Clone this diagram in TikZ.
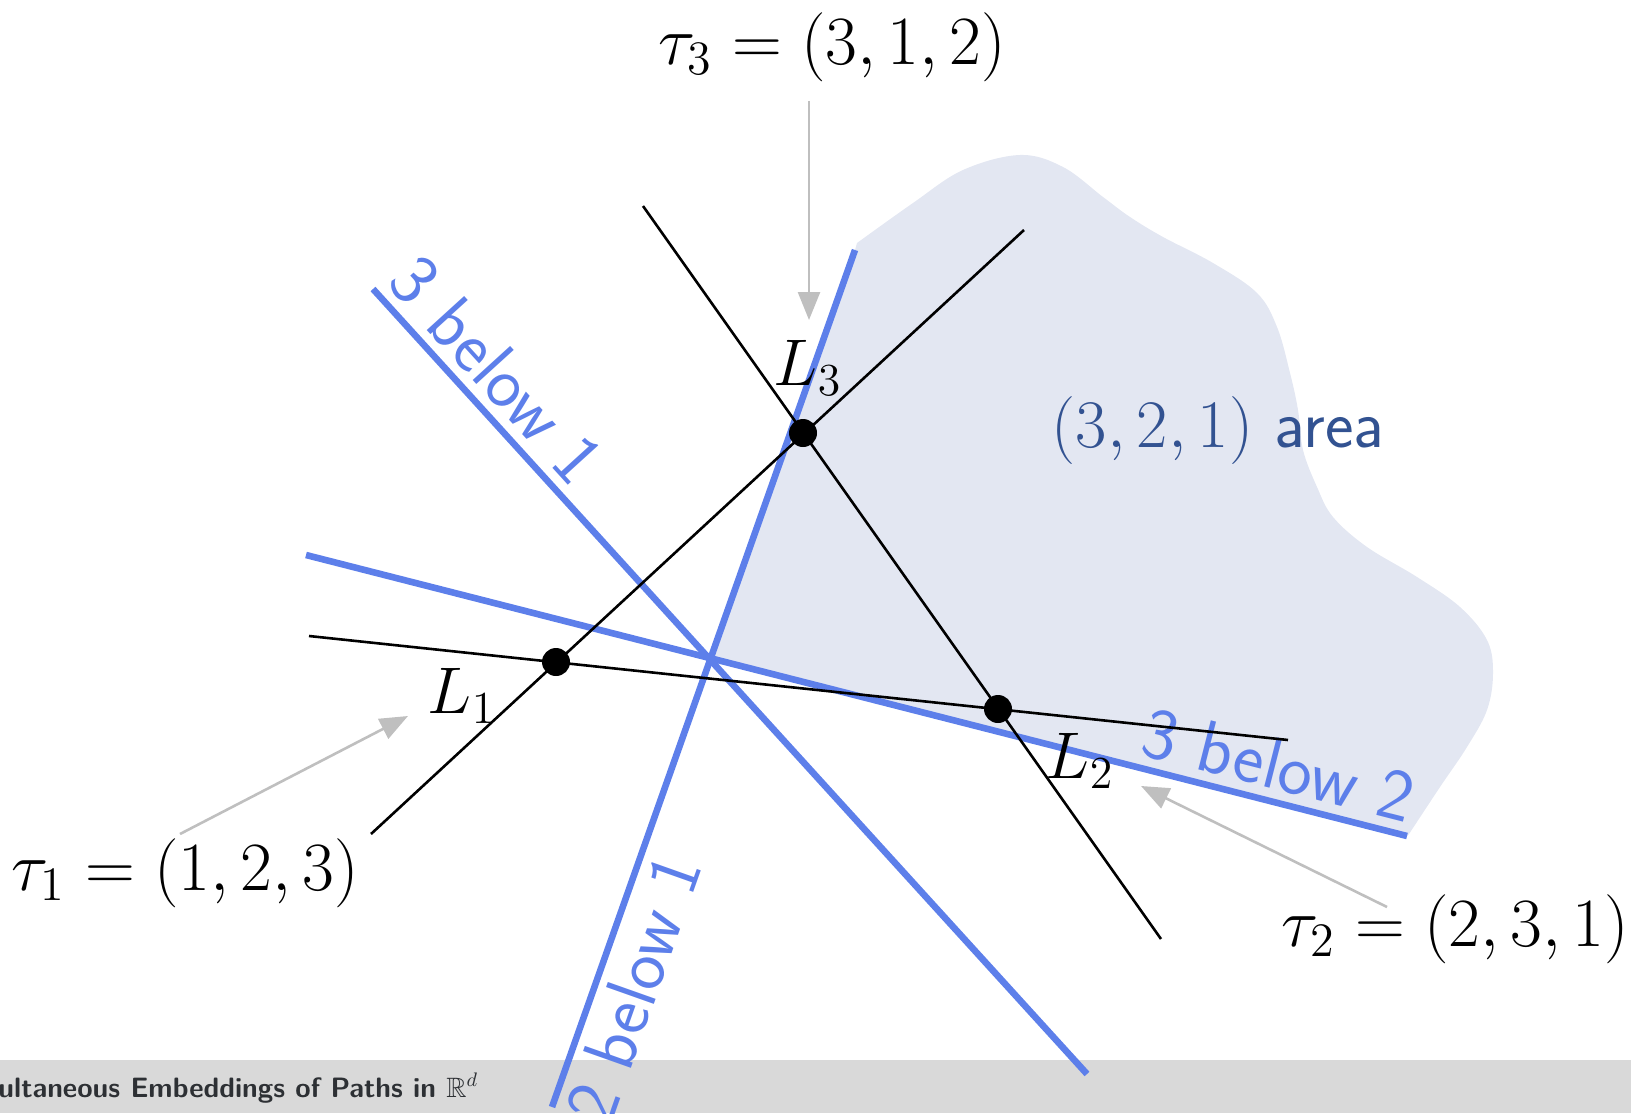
\RequirePackage{fix-cm}
\documentclass[tikz,border=0pt]{standalone}
\usepackage{amssymb}
\usepackage{graphicx}
\usetikzlibrary{arrows.meta,calc}
\definecolor{lineblue}{RGB}{93,127,234}
\definecolor{blobfill}{RGB}{227,231,242}
\definecolor{areablue}{RGB}{50,82,145}
\definecolor{arrowgray}{RGB}{191,191,191}
\definecolor{footgray}{RGB}{217,217,217}
\definecolor{foottext}{RGB}{45,48,52}
\newcommand{\bigmath}[2]{\scalebox{#1}{$#2$}}
\begin{document}
\begin{tikzpicture}[x=0.5pt,y=-0.5pt,
  blueline/.style={line width=3.3pt, draw=lineblue},
  blackline/.style={line width=1.3pt, draw=black},
  dotnode/.style={circle, fill=black, inner sep=0pt, minimum size=14pt},
  grayarrow/.style={draw=arrowgray, line width=1.3pt, -{Triangle[length=14pt,width=11pt,fill=arrowgray]}},
  taulabel/.style={font=\fontsize{17.28}{22}\selectfont, inner sep=0pt},
  Llabel/.style={font=\fontsize{17.28}{22}\selectfont, inner sep=0pt},
  bluelabel/.style={text=lineblue, font=\sffamily\fontsize{36.5}{42}\selectfont, inner sep=4pt},
  arealabel/.style={text=areablue, font=\sffamily\fontsize{34}{40}\selectfont, inner sep=0pt},
  footlabel/.style={text=foottext, font=\sffamily\bfseries\fontsize{14}{17}\selectfont, inner sep=0pt}]
\useasboundingbox (0,0) rectangle (1631,1113);
% footline
\fill[footgray] (0,1060) rectangle (1631,1113);
\node[footlabel, anchor=base west] (foot) at (-2,1097) {ultaneous Embeddings of Paths in $\mathbb{R}^d$};
% coordinates
\coordinate (X) at (710,658);
\coordinate (P1) at (373,289);  \coordinate (P2) at (1087,1074);
\coordinate (Q1) at (855,250);  \coordinate (Q2) at (552,1107);
\coordinate (R1) at (306,555);  \coordinate (R2) at (1407,836);
\coordinate (L1) at (556,662);  \coordinate (L2) at (998,709);  \coordinate (L3) at (803,433);
\coordinate (A1) at (371,834);  \coordinate (A2) at (1024,230);
\coordinate (B1) at (643,206);  \coordinate (B2) at (1161,939);
\coordinate (C1) at (309,636);  \coordinate (C2) at (1288,740);
% area
\fill[blobfill] (Q1) -- (X) -- (R2) -- plot[smooth,tension=0.6] coordinates {
 (1409,834) (1440,787) (1467,747) (1487,710) (1493,673) (1487,640) (1460,607)
 (1417,577) (1367,547) (1333,517) (1317,487) (1303,450) (1298,410) (1290,373)
 (1277,327) (1257,293) (1213,263) (1163,237) (1130,217) (1103,197) (1063,167)
 (1020,155) (963,170) (913,203) (857,243)} -- cycle;
\node[arealabel] (area) at (1218,430) {$(3,2,1)$ area};
% blue lines
\draw[blueline] (P1) -- (P2) node[bluelabel, pos=0.135, sloped, above] (lab31) {3 below 1};
\draw[blueline] (Q2) -- (Q1) node[bluelabel, pos=0.153, sloped, below] (lab21) {2 below 1};
\draw[blueline] (R1) -- (R2) node[bluelabel, pos=0.875, sloped, above] (lab32) {3 below 2};
% black lines
\draw[blackline] (A1) -- (A2);
\draw[blackline] (B1) -- (B2);
\draw[blackline] (C1) -- (C2);
\node[dotnode] (d1) at (L1) {};
\node[dotnode] (d2) at (L2) {};
\node[dotnode] (d3) at (L3) {};
\node[Llabel] (l1) at (462,696) {\bigmath{1.91}{L_1}};
\node[Llabel] (l2) at (1080,761) {\bigmath{1.91}{L_2}};
\node[Llabel] (l3) at (808,368) {\bigmath{1.91}{L_3}};
% tau labels and arrows
\node[taulabel] (t3) at (832,47) {\bigmath{2}{\tau_3 = (3,1,2)}};
\node[taulabel] (t1) at (185,873) {\bigmath{2}{\tau_1 = (1,2,3)}};
\node[taulabel] (t2) at (1455,929) {\bigmath{2}{\tau_2 = (2,3,1)}};
\coordinate (t3s) at (809,101);  \coordinate (t3e) at (809,320);
\coordinate (t1s) at (180,834);  \coordinate (t1e) at (408,716);
\coordinate (t2s) at (1387,907); \coordinate (t2e) at (1141,786);
\draw[grayarrow] (t3s) -- (t3e);
\draw[grayarrow] (t1s) -- (t1e);
\draw[grayarrow] (t2s) -- (t2e);
\end{tikzpicture}
\end{document}
